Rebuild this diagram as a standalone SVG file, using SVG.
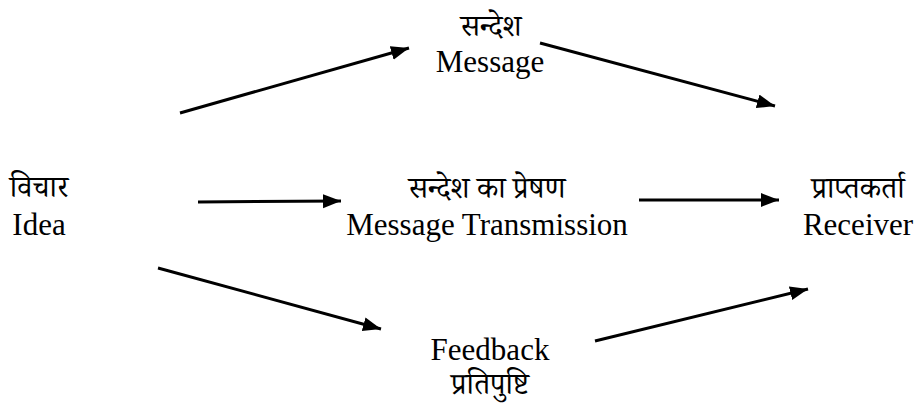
<svg xmlns="http://www.w3.org/2000/svg" width="921" height="406" viewBox="0 0 921 406">
<style>
text{font-family:"Liberation Serif","Noto Serif Devanagari","Noto Sans Devanagari","Lohit Devanagari","FreeSerif",serif;font-size:31px;fill:#000;text-anchor:middle}
.hi{font-size:30px}
.c line{stroke:#000;stroke-width:3;marker-end:url(#ah)}
</style>
<defs>
<marker id="ah" markerUnits="userSpaceOnUse" markerWidth="20" markerHeight="16" refX="18" refY="7" orient="auto">
<path d="M0,0 L18,7 L0,14 Z" fill="#000"/>
</marker>
</defs>
<g id="idea"><text class="hi" x="39" y="197">विचार</text><text x="39" y="235">Idea</text></g>
<g id="message"><text class="hi" x="491" y="36">सन्देश</text><text x="490" y="72">Message</text></g>
<g id="transmission"><text class="hi" x="487" y="198">सन्देश का प्रेषण</text><text x="487" y="235">Message Transmission</text></g>
<g id="receiver"><text class="hi" x="858" y="198">प्राप्तकर्ता</text><text x="858" y="235">Receiver</text></g>
<g id="feedback"><text x="490" y="360">Feedback</text><text class="hi" x="490" y="394">प्रतिपुष्टि</text></g>
<g class="c" id="connectors">
<line x1="180" y1="113" x2="409" y2="48"/>
<line x1="540" y1="43" x2="775" y2="106"/>
<line x1="198" y1="202" x2="341" y2="201"/>
<line x1="639" y1="200" x2="779" y2="200"/>
<line x1="158" y1="268" x2="381" y2="329"/>
<line x1="595" y1="341" x2="808" y2="289"/>
</g>
</svg>
